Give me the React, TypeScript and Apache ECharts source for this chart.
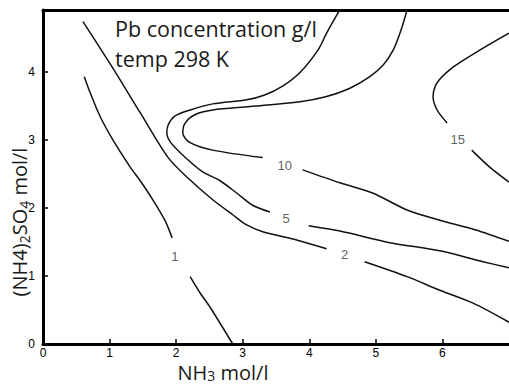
import React, { useEffect, useRef } from "react";
import * as echarts from "echarts";

// contour "1"
const curve1a = [[0.62, 3.93], [0.71, 3.69], [0.86, 3.34], [1.05, 3.0], [1.31, 2.6], [1.46, 2.4], [1.65, 2.12], [1.83, 1.82], [1.94, 1.56]];
const curve1b = [[2.21, 0.99], [2.36, 0.75], [2.51, 0.54], [2.85, 0.0]];
// contour "2"
const curve2a = [[0.6, 4.74], [1.04, 4.07], [1.46, 3.4], [1.88, 2.74], [2.21, 2.41], [2.55, 2.12], [2.85, 1.9], [3.06, 1.75], [3.3, 1.65], [3.81, 1.53], [4.26, 1.4]];
const curve2b = [[4.83, 1.21], [5.47, 0.99], [5.96, 0.79], [6.46, 0.6], [7.0, 0.32]];
// contour "5"
const curve5a = [[4.48, 4.95], [4.26, 4.57], [4.13, 4.32], [3.86, 3.99], [3.6, 3.79], [3.33, 3.66], [3.06, 3.59], [2.55, 3.53], [2.21, 3.44], [1.98, 3.35], [1.88, 3.22], [1.86, 3.1], [1.92, 2.96], [2.13, 2.75], [2.4, 2.53], [2.66, 2.4], [2.91, 2.22], [3.15, 2.04], [3.41, 1.94]];
const curve5b = [[3.99, 1.74], [4.46, 1.66], [5.21, 1.49], [5.96, 1.37], [6.61, 1.21], [7.0, 1.12]];
// contour "10"
const curve10a = [[5.48, 4.95], [5.38, 4.62], [5.26, 4.32], [5.11, 4.1], [4.91, 3.93], [4.61, 3.76], [4.23, 3.63], [3.86, 3.56], [3.11, 3.49], [2.55, 3.44], [2.28, 3.37], [2.13, 3.24], [2.1, 3.1], [2.21, 2.96], [2.55, 2.85], [3.3, 2.74]];
const curve10b = [[3.9, 2.56], [4.46, 2.37], [4.95, 2.22], [5.47, 1.97], [5.96, 1.82], [6.49, 1.68], [7.0, 1.51]];
// contour "15"
const curve15a = [[7.0, 4.57], [6.56, 4.32], [6.16, 4.07], [5.92, 3.84], [5.86, 3.63], [5.92, 3.44], [6.07, 3.25]];
const curve15b = [[6.44, 2.85], [6.71, 2.6], [7.0, 2.38]];

const contourLabels = [[1.98, 1.29, "1"], [4.53, 1.31, "2"], [3.65, 1.84, "5"], [3.63, 2.63, "10"], [6.23, 3.0, "15"]];

const xMin = 0, xMax = 7, yMin = 0, yMax = 4.91;

const segments = [curve1a, curve1b, curve2a, curve2b, curve5a, curve5b, curve10a, curve10b, curve15a, curve15b];

const TEXT_FONT = '"Open Sans"';
const TICK_FONT = '"Liberation Sans"';

export default function App() {
  const ref = useRef<HTMLDivElement>(null);
  useEffect(() => {
    if (!ref.current) return;
    const chart = echarts.init(ref.current, null, { renderer: "svg" });
    const axisLine = { show: true, onZero: false, lineStyle: { color: "#000", width: 3 } };
    chart.setOption({
      animation: false,
      backgroundColor: "#fff",
      grid: { left: 43, right: 0, top: 10, bottom: 41, containLabel: false },
      xAxis: [
        {
          type: "value", min: xMin, max: xMax, interval: 1, position: "bottom",
          axisLine,
          axisTick: { show: true, inside: true, length: 5, lineStyle: { color: "#000", width: 1.5 } },
          axisLabel: { margin: 3, fontSize: 12, lineHeight: 12, color: "#000", fontFamily: TICK_FONT, showMaxLabel: false },
          splitLine: { show: false },
        },
        {
          type: "value", min: xMin, max: xMax, position: "top",
          axisLine, axisTick: { show: false }, axisLabel: { show: false }, splitLine: { show: false },
        },
      ],
      yAxis: {
        type: "value", min: yMin, max: yMax, interval: 1,
        axisLine,
        axisTick: { show: true, inside: true, length: 5, lineStyle: { color: "#000", width: 1.5 } },
        axisLabel: { margin: 8, fontSize: 12, color: "#000", fontFamily: TICK_FONT, showMaxLabel: false },
        splitLine: { show: false },
      },
      series: [
        ...segments.map((d) => ({
          type: "line", data: d, showSymbol: false, smooth: 0.3, silent: true, clip: true,
          lineStyle: { color: "#111", width: 1.5 },
        })),
        {
          type: "scatter", data: contourLabels, symbolSize: 0, silent: true,
          label: {
            show: true, position: "inside", formatter: (p: any) => p.value[2],
            fontSize: 13, color: "#333", fontFamily: TICK_FONT,
          },
        },
      ],
      graphic: [
        {
          type: "text", left: 115, top: 17,
          style: { text: "Pb concentration g/l", font: `21.5px ${TEXT_FONT}`, fill: "#1a1a1a" },
        },
        {
          type: "text", left: 115, top: 47,
          style: { text: "temp 298 K", font: `21.5px ${TEXT_FONT}`, fill: "#1a1a1a" },
        },
        {
          type: "text", x: 223, y: 372,
          style: {
            text: "{a|NH}{s|3}{a| mol/l}", align: "center", verticalAlign: "middle",
            textAlign: "center", textVerticalAlign: "middle",
            rich: {
              a: { fontSize: 20, fontFamily: TEXT_FONT, fill: "#1a1a1a", lineHeight: 20 },
              s: { fontSize: 14, fontFamily: TEXT_FONT, fill: "#1a1a1a", lineHeight: 15, verticalAlign: "bottom" },
            },
          },
        },
        {
          type: "text", x: 19, y: 222, rotation: Math.PI / 2,
          style: {
            text: "{a|(NH4)}{s|2}{a|SO}{s|4}{a| mol/l}", align: "center", verticalAlign: "middle",
            textAlign: "center", textVerticalAlign: "middle",
            rich: {
              a: { fontSize: 20, fontFamily: TEXT_FONT, fill: "#1a1a1a", lineHeight: 25 },
              s: { fontSize: 14, fontFamily: TEXT_FONT, fill: "#1a1a1a", lineHeight: 20, verticalAlign: "bottom" },
            },
          },
        },
      ],
    });
    return () => chart.dispose();
  }, []);
  return <div ref={ref} style={{ position: "fixed", left: 0, top: 0, width: 509, height: 385 }} />;
}
